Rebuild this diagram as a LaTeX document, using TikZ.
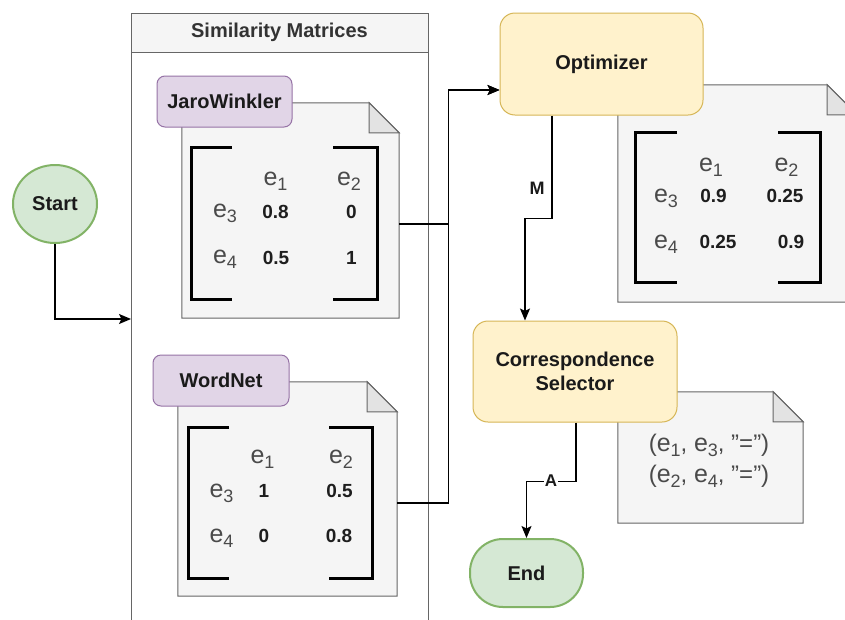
\documentclass[tikz,border=0pt]{standalone}
\usepackage{fontspec}
\setmainfont{Liberation Sans}
\usetikzlibrary{shapes.geometric,arrows.meta,calc}
\definecolor{grnfill}{HTML}{D5E8D4}
\definecolor{grnline}{HTML}{82B366}
\definecolor{ylwfill}{HTML}{FFF2CC}
\definecolor{ylwline}{HTML}{D6B656}
\definecolor{prpfill}{HTML}{E1D5E7}
\definecolor{prpline}{HTML}{9673A6}
\definecolor{grayfill}{HTML}{F5F5F5}
\definecolor{grayline}{HTML}{666666}
\definecolor{foldfill}{HTML}{E3E3E3}
\definecolor{headtxt}{HTML}{333333}
\definecolor{maintxt}{HTML}{1A1A1A}
\definecolor{etxt}{HTML}{4A4A4A}
\definecolor{numtxt}{HTML}{1E1E1E}
\newcommand{\ee}[1]{{\fontsize{25}{25}\selectfont e}\raisebox{-5pt}{\fontsize{18}{18}\selectfont #1}}
\newcommand{\drawnote}[1]{%
  \filldraw[notestyle] (#1.north west) -- ([xshift=-30pt]#1.north east) -- ([yshift=-30pt]#1.north east) -- (#1.south east) -- (#1.south west) -- cycle;
  \filldraw[foldstyle] ([xshift=-30pt]#1.north east) -- ([xshift=-30pt,yshift=-30pt]#1.north east) -- ([yshift=-30pt]#1.north east) -- cycle;}
\begin{document}
\begin{tikzpicture}[x=1pt,y=-1pt,
  box/.style={draw, inner sep=0pt, align=center, text=maintxt, font=\bfseries\fontsize{20}{24}\selectfont, line width=1pt},
  procbox/.style={box, fill=ylwfill, draw=ylwline, rounded corners=15pt},
  tagbox/.style={box, fill=prpfill, draw=prpline, rounded corners=8pt},
  notebase/.style={draw=none, inner sep=0pt},
  notestyle/.style={fill=grayfill, draw=grayline, line width=1pt},
  foldstyle/.style={fill=foldfill, draw=grayline, line width=1pt},
  bracket/.style={draw=black, line width=3pt, line join=miter, line cap=butt},
  etext/.style={anchor=base, inner sep=0pt, text=etxt},
  ntext/.style={anchor=base, inner sep=0pt, text=numtxt, font=\bfseries\fontsize{19}{19}\selectfont},
  conn/.style={draw=black, line width=1.3pt, -{Stealth[length=12pt,width=10pt,inset=2.5pt]}},
  lbl/.style={inner sep=1pt, text=maintxt, font=\bfseries\fontsize{18}{18}\selectfont}
]
\clip (0,0) rectangle (845,619);
\fill[white] (0,0) rectangle (845,619);

% swimlane
\node[draw=grayline, line width=1pt, fill=white, minimum width=297pt, minimum height=627pt, inner sep=0pt] (lane) at (279.5,326.5) {};
\node[draw=grayline, line width=1pt, fill=grayfill, minimum width=297pt, minimum height=39pt, inner sep=0pt, text=headtxt, font=\bfseries\fontsize{20}{24}\selectfont] (lanehd) at (279.5,32.5) {Similarity Matrices};

% notes
\node[notebase, minimum width=217pt, minimum height=215pt] (jwnote) at (290.5,210.5) {};
\drawnote{jwnote}
\node[notebase, minimum width=219pt, minimum height=214pt] (wnnote) at (287.5,489) {};
\drawnote{wnnote}
\node[notebase, minimum width=239pt, minimum height=217pt] (optnote) at (737.5,193.5) {};
\drawnote{optnote}
\node[notebase, minimum width=185pt, minimum height=131pt] (selnote) at (710.5,457.5) {};
\drawnote{selnote}

% tags and process boxes
\node[tagbox, minimum width=135pt, minimum height=51pt] (jw) at (224.5,101.5) {JaroWinkler};
\node[tagbox, minimum width=136pt, minimum height=51pt] (wn) at (221,380.5) {WordNet};
\node[procbox, minimum width=203pt, minimum height=102pt] (opt) at (601.5,64) {Optimizer};
\node[procbox, minimum width=204pt, minimum height=101pt] (sel) at (575,371.5) {Correspondence\\Selector};

% start / end
\node[ellipse, draw=grnline, fill=grnfill, line width=2pt, minimum width=84pt, minimum height=78pt, inner sep=0pt, text=maintxt, font=\bfseries\fontsize{20}{24}\selectfont] (start) at (55,204) {Start};
\node[draw=grnline, fill=grnfill, line width=2pt, rounded corners=33pt, minimum width=113pt, minimum height=68pt, inner sep=0pt, text=maintxt, font=\bfseries\fontsize{20}{24}\selectfont] (end) at (526.5,573) {End};

% brackets
\draw[bracket] (232,147) -- (191,147) -- (191,299) -- (232,299);
\draw[bracket] (333,147) -- (377,147) -- (377,299) -- (333,299);
\draw[bracket] (229,427) -- (188,427) -- (188,578) -- (229,578);
\draw[bracket] (329,427) -- (372,427) -- (372,578) -- (329,578);
\draw[bracket] (677,132) -- (635,132) -- (635,282) -- (677,282);
\draw[bracket] (778,132) -- (820,132) -- (820,282) -- (778,282);

% JaroWinkler matrix
\node[etext] (jwe1) at (275.5,185) {\ee{1}};
\node[etext] (jwe2) at (349,185) {\ee{2}};
\node[etext] (jwe3) at (225,217) {\ee{3}};
\node[ntext] (jw31) at (275.5,218) {0.8};
\node[ntext] (jw32) at (351.5,218) {0};
\node[etext] (jwe4) at (225,263) {\ee{4}};
\node[ntext] (jw41) at (276,264) {0.5};
\node[ntext] (jw42) at (351.5,264) {1};

% WordNet matrix
\node[etext] (wne1) at (262.5,463) {\ee{1}};
\node[etext] (wne2) at (341,463) {\ee{2}};
\node[etext] (wne3) at (221.5,497) {\ee{3}};
\node[ntext] (wn31) at (264,497) {1};
\node[ntext] (wn32) at (339.5,497) {0.5};
\node[etext] (wne4) at (221.5,542) {\ee{4}};
\node[ntext] (wn41) at (264,542) {0};
\node[ntext] (wn42) at (339,542) {0.8};

% Optimizer matrix
\node[etext] (ope1) at (711,171) {\ee{1}};
\node[etext] (ope2) at (786.5,171) {\ee{2}};
\node[etext] (ope3) at (666,202) {\ee{3}};
\node[ntext] (op31) at (713.5,202) {0.9};
\node[ntext] (op32) at (785,202) {0.25};
\node[etext] (ope4) at (666,248) {\ee{4}};
\node[ntext] (op41) at (718,248) {0.25};
\node[ntext] (op42) at (791,248) {0.9};

% selector note text
\node[etext, font=\fontsize{24}{24}\selectfont] (sl1) at (709,451) {(\ee{1}, \ee{3}, ”=”)};
\node[etext, font=\fontsize{24}{24}\selectfont] (sl2) at (709,482) {(\ee{2}, \ee{4}, ”=”)};

% connectors
\coordinate (lanein) at (131,319);
\draw[conn] (start.south) |- (lanein);
\draw[conn] ([yshift=-13.5pt]jwnote.east) -- ++(49,0) |- ([yshift=-26pt]opt.west);
\draw[conn] ([yshift=-14pt]wnnote.east) -- ++(51,0) |- ([yshift=-26pt]opt.west);
\draw[conn] ([xshift=-49.5pt]opt.south) -- ++(0,103) -| ([xshift=-50pt]sel.north);
\draw[conn] ([xshift=1pt]sel.south) -- ++(0,59) -| (end.north);
\node[lbl] (mlab) at (537,188) {M};
\node[lbl, fill=white, font=\bfseries\fontsize{17}{17}\selectfont] (alab) at (551,481) {A};
\end{tikzpicture}
\end{document}
